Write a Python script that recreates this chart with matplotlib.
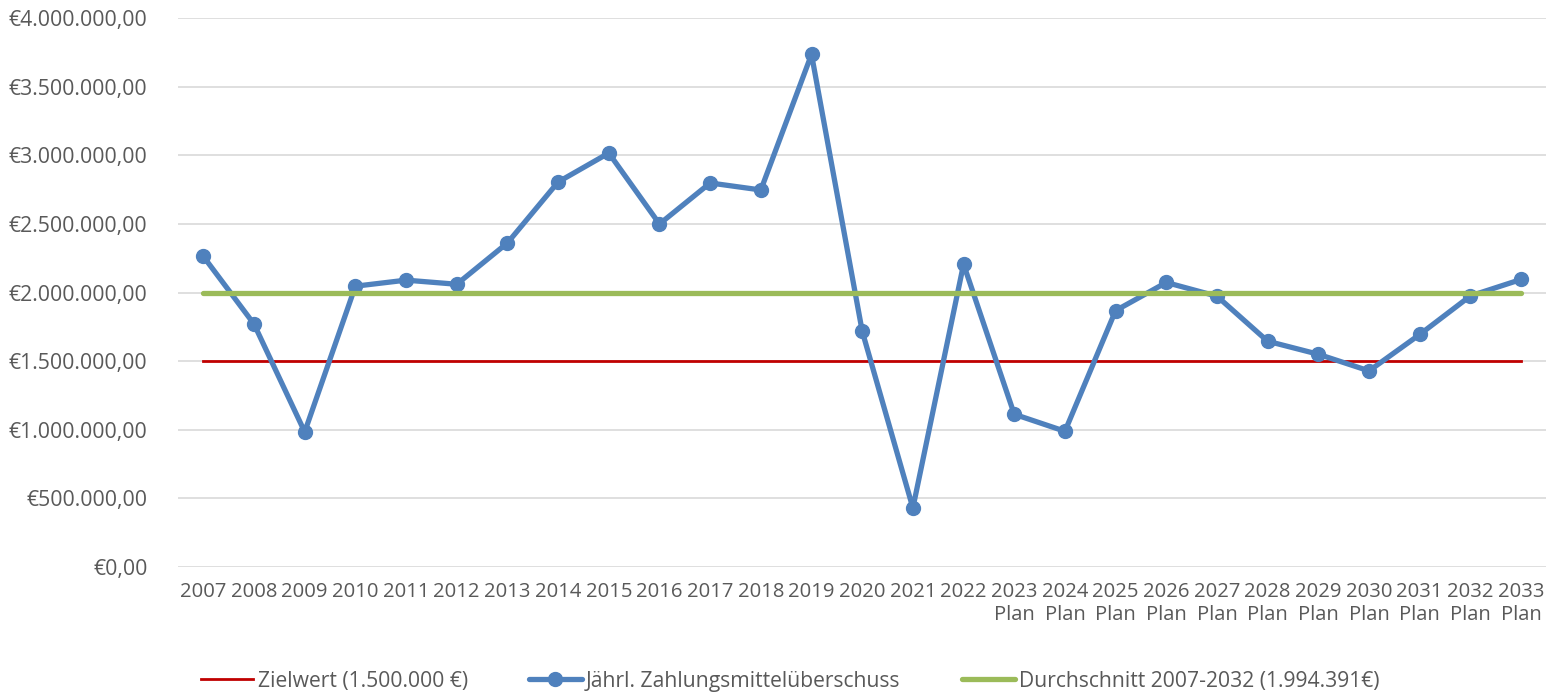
import matplotlib
matplotlib.use("Agg")
import matplotlib.pyplot as plt
from matplotlib.ticker import FuncFormatter

plt.rcParams['font.family'] = ['Open Sans', 'DejaVu Sans']

years = ["2007", "2008", "2009", "2010", "2011", "2012", "2013", "2014", "2015",
         "2016", "2017", "2018", "2019", "2020", "2021", "2022",
         "2023\nPlan", "2024\nPlan", "2025\nPlan", "2026\nPlan", "2027\nPlan",
         "2028\nPlan", "2029\nPlan", "2030\nPlan", "2031\nPlan", "2032\nPlan", "2033\nPlan"]
ueberschuss = [2263000, 1770000, 984000, 2046000, 2090000, 2060000, 2361000, 2805000,
               3016000, 2499000, 2798000, 2747000, 3735000, 1718000, 430000, 2206000,
               1113000, 989000, 1868000, 2073000, 1973000, 1645000, 1550000, 1429000,
               1694000, 1975000, 2095000]
zielwert = 1500000
durchschnitt = 1994391

label_ziel = "Zielwert (1.500.000 €)"
label_ueber = "Jährl. Zahlungsmittelüberschuss"
label_durch = "Durchschnitt 2007-2032 (1.994.391€)"

fig = plt.figure(figsize=(15.52, 6.93), dpi=100)
ax = fig.add_axes([178/1552, 1 - 567/693, (1546.4 - 178)/1552, (567 - 18)/693])

x = list(range(len(years)))
ax.plot(x, [zielwert] * len(x), color="#C00000", lw=2.0, label=label_ziel, zorder=3)
ax.plot(x, ueberschuss, color="#4F81BD", lw=3.8, marker="o", markersize=10,
        label=label_ueber, zorder=4, solid_capstyle="round")
ax.plot(x, [durchschnitt] * len(x), color="#9BBB59", lw=3.8, label=label_durch,
        zorder=5, solid_capstyle="round")

ax.set_xlim(-0.5, len(years) - 0.5)
ax.set_ylim(0, 4000000)
ax.set_yticks([i * 500000 for i in range(9)])


def fmt(v, pos):
    s = f"{v:,.2f}".replace(",", "X").replace(".", ",").replace("X", ".")
    return "€" + s


ax.yaxis.set_major_formatter(FuncFormatter(fmt))
ax.set_xticks(x)
ax.set_xticklabels(years, linespacing=1.15)
ax.grid(axis="y", color="#D9D9D9", lw=1.2)
ax.set_axisbelow(True)
for s in ax.spines.values():
    s.set_visible(False)
ax.tick_params(axis="both", length=0, colors="#595959")
ax.tick_params(axis="y", pad=22, labelsize=15.3)
ax.tick_params(axis="x", pad=11, labelsize=14.6)

fig.legend(loc="center", bbox_to_anchor=(0.509, 1 - 681/693), ncol=3, frameon=False,
           fontsize=15.2, handlelength=2.5, columnspacing=2.9, handletextpad=0.2,
           labelcolor="#595959")

fig.savefig("out.png", dpi=100, facecolor="white")
